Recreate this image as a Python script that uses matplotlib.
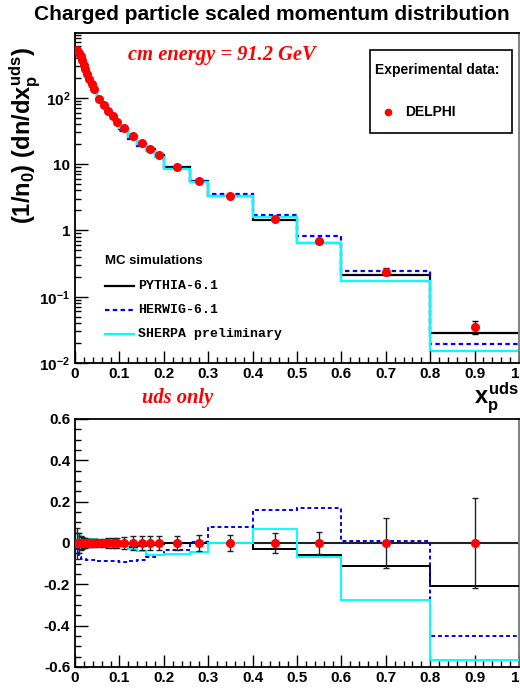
import numpy as np
import matplotlib
matplotlib.use("Agg")
import matplotlib.pyplot as plt
from matplotlib.ticker import FixedLocator, FixedFormatter, LogLocator, MultipleLocator, NullFormatter
from matplotlib.lines import Line2D
from matplotlib.patches import Rectangle

plt.rcParams['font.family'] = ['Liberation Sans', 'DejaVu Sans']
plt.rcParams['font.weight'] = 'bold'
plt.rcParams['mathtext.fontset'] = 'custom'
plt.rcParams['mathtext.rm'] = 'Liberation Sans:bold'
plt.rcParams['mathtext.it'] = 'Liberation Sans:bold'
plt.rcParams['mathtext.bf'] = 'Liberation Sans:bold'
plt.rcParams['mathtext.sf'] = 'Liberation Sans:bold'

# ---------------- data ----------------
bin_edges = [0, 0.008, 0.011, 0.014, 0.018, 0.021, 0.025, 0.03, 0.035, 0.04, 0.05,
             0.06, 0.07, 0.08, 0.09, 0.1, 0.12, 0.14, 0.16, 0.18, 0.2, 0.26, 0.3,
             0.4, 0.5, 0.6, 0.8, 1.0]
x_data = [0.005, 0.0095, 0.0125, 0.0165, 0.0195, 0.0225, 0.0275, 0.0325, 0.0375, 0.0425,
          0.055, 0.065, 0.075, 0.085, 0.095, 0.11, 0.13, 0.15, 0.17, 0.19, 0.23, 0.28,
          0.35, 0.45, 0.55, 0.70, 0.90]
y_data = [518, 473, 431, 366, 315, 271, 228, 192, 163, 135, 96.6, 78.4, 63.6, 53.5, 43.9,
          34.9, 26.1, 20.7, 16.8, 13.8, 9.0, 5.6, 3.25, 1.47, 0.695, 0.239, 0.0353]
rel_err = [0.075, 0.05, 0.035, 0.03, 0.025, 0.025, 0.02, 0.02, 0.02, 0.02, 0.02, 0.02,
           0.022, 0.025, 0.025, 0.03, 0.033, 0.035, 0.035, 0.035, 0.036, 0.038, 0.04,
           0.046, 0.055, 0.12, 0.22]
# (MC - data) / data, per bin
ratio_pythia = [-0.01, -0.015, -0.012, -0.01, -0.01, -0.01, -0.01, -0.01, -0.012, -0.012,
                -0.013, -0.015, -0.015, -0.015, -0.015, -0.015, -0.017, -0.015, -0.01,
                -0.005, -0.002, -0.002, 0.0, -0.03, -0.06, -0.11, -0.21]
ratio_herwig = [-0.03, -0.06, -0.07, -0.075, -0.077, -0.078, -0.08, -0.08, -0.082, -0.083,
                -0.085, -0.086, -0.087, -0.088, -0.089, -0.09, -0.088, -0.082, -0.07,
                -0.06, -0.032, 0.005, 0.076, 0.162, 0.17, 0.011, -0.448]
ratio_sherpa = [0.0, 0.04, 0.035, 0.028, 0.025, 0.02, 0.02, 0.018, 0.018, 0.017, 0.016,
                0.015, 0.015, 0.015, 0.012, -0.01, -0.03, -0.037, -0.06, -0.06, -0.055,
                -0.045, 0.0, 0.068, -0.069, -0.274, -0.564]

xd = np.array(x_data)
yd = np.array(y_data)
re = np.array(rel_err)
mc = {
    'PYTHIA-6.1': (np.array(ratio_pythia), dict(color='black', lw=1.6, ls='-')),
    'HERWIG-6.1': (np.array(ratio_herwig), dict(color='#0000ff', lw=1.6, ls=(0, (2, 1.5)))),
    'SHERPA preliminary': (np.array(ratio_sherpa), dict(color='#00ffff', lw=1.6, ls='-')),
}

W, H = 520, 690
fig = plt.figure(figsize=(W / 100, H / 100), dpi=100)

def fx(px):
    return px / W

def fy(py):
    return 1 - py / H

ax1 = fig.add_axes([fx(75), fy(363), fx(519) - fx(75), fy(33) - fy(363)])
ax2 = fig.add_axes([fx(75), fy(667), fx(519) - fx(75), fy(419) - fy(667)])

# ---------------- top panel ----------------
for name, (r, st) in mc.items():
    ax1.stairs(yd * (1 + r), bin_edges, baseline=None, **st)
ax1.errorbar(xd, yd, yerr=yd * re, fmt='o', color='red', ms=5.5, mec='red',
             ecolor='black', elinewidth=1, capsize=2, zorder=5)
ax1.set_yscale('log')
ax1.set_xlim(0, 1)
ax1.set_ylim(0.01, 950)

ax1.yaxis.set_major_locator(FixedLocator([0.01, 0.1, 1, 10, 100]))
ax1.yaxis.set_major_formatter(FixedFormatter([r'$10^{-2}$', r'$10^{-1}$', '1', '10', r'$10^{2}$']))
ax1.yaxis.set_minor_locator(LogLocator(base=10, subs=np.arange(2, 10), numticks=20))
ax1.yaxis.set_minor_formatter(NullFormatter())

# ---------------- bottom panel ----------------
ax2.axhline(0, color='#222222', lw=1.5, zorder=2)
for name, (r, st) in mc.items():
    st2 = dict(st)
    st2['lw'] = 1.4
    ax2.stairs(r, bin_edges, baseline=None, zorder=3, **st2)
ax2.errorbar(xd, np.zeros_like(xd), yerr=re, fmt='o', color='red', ms=5.5, mec='red',
             ecolor='#222222', elinewidth=1, capsize=2, zorder=5)
ax2.set_xlim(0, 1)
ax2.set_ylim(-0.6, 0.6)
ax2.yaxis.set_major_locator(MultipleLocator(0.2))
ax2.yaxis.set_minor_locator(MultipleLocator(0.05))
ax2.yaxis.set_major_formatter(plt.FuncFormatter(lambda v, p: '0' if abs(v) < 1e-9 else f'{v:.1f}'))

x_ticks = [0, 0.1, 0.2, 0.3, 0.4, 0.5, 0.6, 0.7, 0.8, 0.9, 1.0]
x_ticklabels = ['0', '0.1', '0.2', '0.3', '0.4', '0.5', '0.6', '0.7', '0.8', '0.9', '1']

for ax in (ax1, ax2):
    ax.xaxis.set_major_locator(FixedLocator(x_ticks))
    ax.xaxis.set_major_formatter(FixedFormatter(x_ticklabels))
    ax.xaxis.set_minor_locator(MultipleLocator(0.02))
    ax.tick_params(which='both', direction='in', top=False, right=False, labelsize=11)
    ax.tick_params(which='major', length=9, width=1)
    ax.tick_params(which='minor', length=4.5, width=1)
    ax.tick_params(axis='x', pad=3)
    for s in ax.spines.values():
        s.set_linewidth(1.3)
    ax.spines['right'].set_color('#777777')

fig.canvas.draw()
for ax in (ax1, ax2):
    for lab in ax.get_xticklabels() + ax.get_yticklabels():
        lab.set_fontweight('bold')
    ax.get_xticklabels()[-1].set_horizontalalignment('right')

# ---------------- texts ----------------
fig.text(fx(272), fy(15), 'Charged particle scaled momentum distribution', ha='center', va='center',
         fontsize=15, fontweight='bold')
fig.text(fx(25), fy(135), r'$(1/n_{0})\ (dn/dx_{p}^{uds})$', rotation=90, ha='center', va='center',
         fontsize=17)
fig.text(fx(222), fy(55), 'cm energy = 91.2 GeV', color='red', ha='center', va='center',
         fontsize=14.8, fontweight='bold', style='italic', family='Liberation Serif')
fig.text(fx(178), fy(398), 'uds only', color='red', ha='center', va='center',
         fontsize=14.8, fontweight='bold', style='italic', family='Liberation Serif')
fig.text(fx(519), fy(398), r'$x_{p}^{uds}$', ha='right', va='center', fontsize=17)

# legend box (experimental)
fig.patches.append(Rectangle((fx(370), fy(133)), fx(512) - fx(370), fy(50) - fy(133),
                             transform=fig.transFigure, fill=False, ec='black', lw=1.2))
fig.text(fx(375), fy(70), 'Experimental data:', ha='left', va='center', fontsize=10, fontweight='bold')
fig.add_artist(Line2D([fx(388)], [fy(112)], marker='o', color='red', ms=4.5, transform=fig.transFigure))
fig.text(fx(405), fy(112), 'DELPHI', ha='left', va='center', fontsize=10, fontweight='bold')

# MC legend
fig.text(fx(105), fy(261), 'MC simulations', ha='left', va='center', fontsize=9.5, fontweight='bold')
for i, (name, (r, st)) in enumerate(mc.items()):
    yy = fy(286 + 24 * i)
    fig.add_artist(Line2D([fx(105), fx(134)], [yy, yy], transform=fig.transFigure, **st))
    fig.text(fx(138), yy, name, ha='left', va='center', fontsize=9.5, fontweight='bold',
             family='Liberation Mono')

fig.savefig('out.png', dpi=100)
